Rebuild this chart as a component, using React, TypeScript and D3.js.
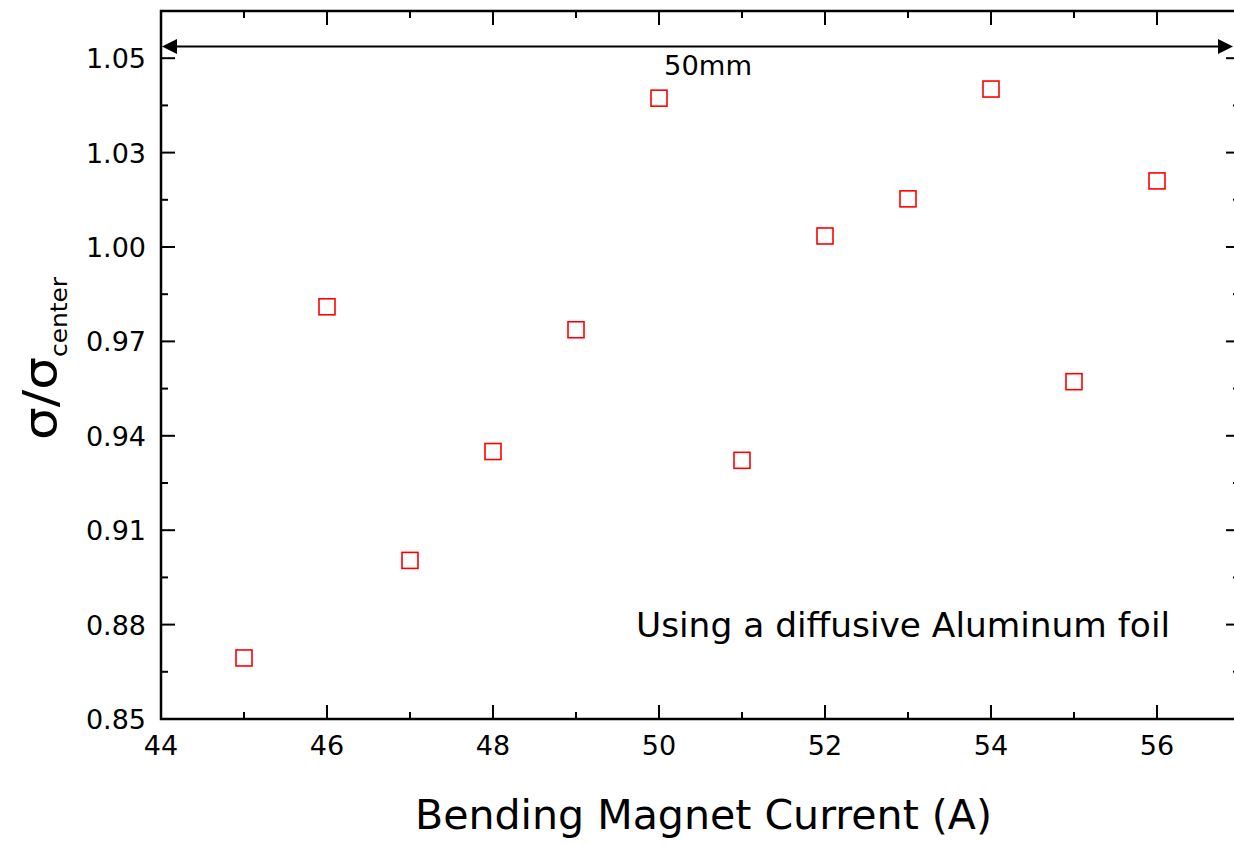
import React from "react";
import * as d3 from "d3";

const currents = [45, 46, 47, 48, 49, 50, 51, 52, 53, 54, 55, 56];
const ratios = [0.8694, 0.981, 0.9004, 0.935, 0.9737, 1.0473, 0.9322, 1.0035, 1.0153, 1.0502, 0.9572, 1.021];
const xTickValues = [44, 46, 48, 50, 52, 54, 56];
const xMinorValues = [45, 47, 49, 51, 53, 55];
const yTickValues = [0.85, 0.88, 0.91, 0.94, 0.97, 1.0, 1.03, 1.06];
const yTickLabels = ["0.85", "0.88", "0.91", "0.94", "0.97", "1.00", "1.03", "1.05"];
const yMinorValues = [0.865, 0.895, 0.925, 0.955, 0.985, 1.015, 1.045];

const W = 1234;
const H = 844;
const left = 161;
const right = 1240;
const top = 11;
const bottom = 719;

const FONT = "'DejaVu Sans', 'Open Sans', sans-serif";

export default function App() {
  const x = d3.scaleLinear().domain([44, 57]).range([left, right]);
  const y = d3.scaleLinear().domain([0.85, 1.075]).range([bottom, top]);
  const major = 14;
  const minor = 7;
  const sw = 2.5;
  const arrowY = 46.5;
  const aL = 162;
  const aR = 1233;
  const ah = 15;
  const aw = 7.5;

  return (
    <svg width={W} height={H} style={{ position: "absolute", left: 0, top: 0, background: "#fff" }}>
      <rect x={0} y={0} width={W} height={H} fill="#fff" />
      {/* frame */}
      <rect x={left} y={top} width={right - left} height={bottom - top} fill="none" stroke="#000" strokeWidth={sw} />
      {/* x ticks bottom & top */}
      {xTickValues.map((v) => (
        <g key={"xt" + v}>
          <line x1={x(v)} x2={x(v)} y1={bottom} y2={bottom - major} stroke="#000" strokeWidth={2} />
          <line x1={x(v)} x2={x(v)} y1={top} y2={top + major} stroke="#000" strokeWidth={2} />
          <text x={x(v)} y={755} textAnchor="middle" fontFamily={FONT} fontSize={27} fill="#000">
            {v}
          </text>
        </g>
      ))}
      {xMinorValues.map((v) => (
        <g key={"xm" + v}>
          <line x1={x(v)} x2={x(v)} y1={bottom} y2={bottom - minor} stroke="#000" strokeWidth={2} />
          <line x1={x(v)} x2={x(v)} y1={top} y2={top + minor} stroke="#000" strokeWidth={2} />
        </g>
      ))}
      {/* y ticks left & right */}
      {yTickValues.map((v, i) => (
        <g key={"yt" + v}>
          <line x1={left} x2={left + major} y1={y(v)} y2={y(v)} stroke="#000" strokeWidth={2} />
          <line x1={right} x2={right - major} y1={y(v)} y2={y(v)} stroke="#000" strokeWidth={2} />
          <text x={146} y={y(v) + 10} textAnchor="end" fontFamily={FONT} fontSize={27} fill="#000">
            {yTickLabels[i]}
          </text>
        </g>
      ))}
      {yMinorValues.map((v) => (
        <g key={"ym" + v}>
          <line x1={left} x2={left + minor} y1={y(v)} y2={y(v)} stroke="#000" strokeWidth={2} />
          <line x1={right} x2={right - minor} y1={y(v)} y2={y(v)} stroke="#000" strokeWidth={2} />
        </g>
      ))}
      {/* 50mm arrow */}
      <line x1={aL + ah} x2={aR - ah} y1={arrowY} y2={arrowY} stroke="#000" strokeWidth={2} />
      <path d={`M${aL},${arrowY} L${aL + ah},${arrowY - aw} L${aL + ah},${arrowY + aw} Z`} fill="#000" />
      <path d={`M${aR},${arrowY} L${aR - ah},${arrowY - aw} L${aR - ah},${arrowY + aw} Z`} fill="#000" />
      <text x={708} y={75} textAnchor="middle" fontFamily={FONT} fontSize={27} fill="#000" textLength={88} lengthAdjust="spacingAndGlyphs">
        50mm
      </text>
      {/* data */}
      {currents.map((c, i) => (
        <rect
          key={"p" + c}
          x={x(c) - 8}
          y={y(ratios[i]) - 8}
          width={16}
          height={16}
          fill="#fff"
          stroke="#ff0000"
          strokeWidth={1.6}
        />
      ))}
      {/* annotation */}
      <text x={636} y={637} fontFamily={FONT} fontSize={33} fill="#000" textLength={534} lengthAdjust="spacingAndGlyphs">
        Using a diffusive Aluminum foil
      </text>
      {/* axis titles */}
      <text x={415} y={829} fontFamily={FONT} fontSize={40} fill="#000" textLength={577} lengthAdjust="spacingAndGlyphs">
        Bending Magnet Current (A)
      </text>
      <text transform="translate(56,440) rotate(-90)" fontFamily={FONT} fontSize={46} fill="#000" textLength={83} lengthAdjust="spacingAndGlyphs">
        σ/σ
      </text>
      <text transform="translate(67,357) rotate(-90)" fontFamily={FONT} fontSize={23} fill="#000" textLength={80} lengthAdjust="spacingAndGlyphs">
        center
      </text>
    </svg>
  );
}
